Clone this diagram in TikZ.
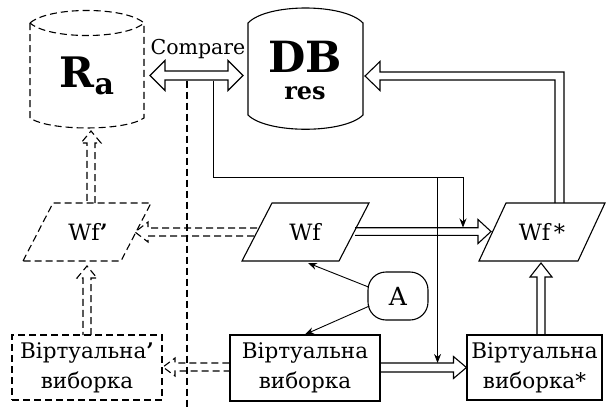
\documentclass[tikz,border=0pt]{standalone}
\usepackage{fontspec}
\setmainfont{DejaVu Serif}
\newfontfamily\tnr{DejaVu Serif}
\usetikzlibrary{calc,arrows.meta}
\tikzset{
  ln/.style={line width=1.1pt},
  dsh/.style={dash pattern=on 7pt off 4pt},
  txt/.style={font=\tnr\fontsize{22.5}{30}\selectfont, align=center, inner sep=0pt},
  box/.style={draw, ln, minimum width=150pt, minimum height=66pt, txt, font=\tnr\fontsize{21.5}{30}\selectfont},
  thinarr/.style={line width=0.9pt, -{Stealth[length=9pt,width=7pt]}},
}
% horizontal hollow arrow: #1 style, #2 start, #3 tip, #4 half shaft, #5 half head, #6 head length
\newcommand\hharrow[6]{%
  \draw[#1] let \p1=(#2), \p2=(#3), \n1={sign(\x2-\x1)} in
    (\x1,\y2+#4) -- ({\x2-\n1*#6},\y2+#4) -- ({\x2-\n1*#6},\y2+#5) -- (\x2,\y2)
    -- ({\x2-\n1*#6},\y2-#5) -- ({\x2-\n1*#6},\y2-#4) -- (\x1,\y2-#4);}
% vertical hollow arrow
\newcommand\vvarrow[6]{%
  \draw[#1] let \p1=(#2), \p2=(#3), \n1={sign(\y2-\y1)} in
    (\x2+#4,\y1) -- (\x2+#4,{\y2-\n1*#6}) -- (\x2+#5,{\y2-\n1*#6}) -- (\x2,\y2)
    -- (\x2-#5,{\y2-\n1*#6}) -- (\x2-#4,{\y2-\n1*#6}) -- (\x2-#4,\y1);}
\newcommand\bprime{{\bfseries\symbol{"2019}}}
\begin{document}
\begin{tikzpicture}[x=1pt,y=-1pt]
\useasboundingbox (0,0) rectangle (608,407);

% R_a cylinder (dashed)
\draw[ln,dsh] (30,23) .. controls (49,6.3) and (125,6.3) .. (144,23)
  .. controls (125,39.7) and (49,39.7) .. (30,23);
\draw[ln,dsh] (30,23) -- (30,118) .. controls (49,131.3) and (125,131.3) .. (144,118) -- (144,23);
\node[inner sep=0pt, font=\tnr] (ra) at (87,76)
  {\fontsize{42}{42}\selectfont\bfseries R\raisebox{-7pt}{\fontsize{30}{30}\selectfont a}};

% DB cylinder
\draw[ln] (248,23) .. controls (267,3) and (344,3) .. (363,23) -- (363,115)
  .. controls (344,134) and (267,134) .. (248,115) -- cycle;
\node[inner sep=0pt, anchor=base, text depth=0pt, font=\tnr\bfseries\fontsize{43}{43}\selectfont] (db) at (305,72) {DB};
\node[inner sep=0pt, anchor=base, text height=15pt, font=\tnr\bfseries\fontsize{24}{24}\selectfont] (res) at (305,99) {res};

% Compare double arrow
\node[inner sep=0pt, font=\tnr\fontsize{20.5}{20.5}\selectfont] (cmp) at (198,49) {Compare};
\coordinate (cmpL) at (150,75.5);
\coordinate (cmpR) at (243,75.5);
\draw[ln] let \p1=(cmpL), \p2=(cmpR) in
  (\x1,\y1) -- (\x1+15pt,\y1+15pt) -- (\x1+15pt,\y1+4.5pt) -- (\x2-15pt,\y1+4.5pt)
  -- (\x2-15pt,\y1+15pt) -- (\x2,\y1) -- (\x2-15pt,\y1-15pt) -- (\x2-15pt,\y1-4.5pt)
  -- (\x1+15pt,\y1-4.5pt) -- (\x1+15pt,\y1-15pt) -- cycle;

% parallelograms
\draw[ln,dsh] (23,261) -- (53,203) -- (151,203) -- (121,261) -- cycle;
\node[txt] (wfp) at (88,232) {Wf\bprime};
\draw[ln] (242,261) -- (272,203) -- (369,203) -- (339,261) -- cycle;
\node[txt] (wf) at (305,232) {Wf};
\draw[ln] (479,261) -- (506,203) -- (605,203) -- (578,261) -- cycle;
\node[txt] (wfs) at (542,232) {Wf\,*};

% boxes
\node[box,dsh,minimum width=150pt,minimum height=65pt] (vp) at (87,367.5) {Віртуальна\bprime\\виборка};
\node[box] (v) at (305,368) {Віртуальна\\виборка};
\node[box,minimum width=135pt,minimum height=65pt] (vs) at (534.5,367.5) {Віртуальна\\виборка*};

% A
\node[draw, ln, rounded corners=18pt, minimum width=60pt, minimum height=48pt,
      inner sep=0pt, font=\tnr\fontsize{25}{25}\selectfont] (A) at (398,296) {A};

% coordinates for connector ends
\coordinate (wfL) at (257,232);
\coordinate (wfpTip) at (135,232);
\coordinate (wfR) at (355,231.5);
\coordinate (wfsTip) at (491,231.5);
\coordinate (vpTip) at (163,367);
\coordinate (vpTop) at (87,335);
\coordinate (wfpBot) at (87,266);
\coordinate (wfpTop) at (91,203);
\coordinate (raBot) at (91,131);
\coordinate (wfsBot) at (541,263);
\coordinate (wfBot) at (308,263);
\coordinate (jrow) at (0,177);
\coordinate (j0) at (213,80.5);
\coordinate (dv0) at (187,80.5);
\coordinate (dv1) at (187,407);

% hollow arrows
\hharrow{ln}{wfR}{wfsTip}{3.8pt}{12pt}{13pt}
\hharrow{ln}{v.east}{vs.west}{4.5pt}{11pt}{13pt}
\vvarrow{ln}{vs.north}{wfsBot}{4pt}{11pt}{14pt}
\hharrow{ln,dsh}{wfL}{wfpTip}{4pt}{10pt}{13pt}
\hharrow{ln,dsh}{v.west}{vpTip}{4pt}{9pt}{12pt}
\vvarrow{ln,dsh}{vpTop}{wfpBot}{4pt}{10pt}{12pt}
\vvarrow{ln,dsh}{wfpTop}{raBot}{4pt}{10pt}{12pt}

% Wf* -> DB bent hollow arrow
\coordinate (dbR) at (365,76);
\coordinate (wfsTop) at (559.5,203);
\draw[ln] let \p1=(wfsTop), \p2=(dbR) in
  (\x1-4.5pt,\y1) -- (\x1-4.5pt,\y2-4pt) -- (\x2+15pt,\y2-4pt) -- (\x2+15pt,\y2-14.5pt)
  -- (\x2,\y2) -- (\x2+15pt,\y2+14.5pt) -- (\x2+15pt,\y2+4pt) -- (\x1+4.5pt,\y2+4pt)
  -- (\x1+4.5pt,\y1);

% thin connectors
\draw[ln,dsh] (dv0) -- (dv1);
\draw[thinarr] (j0) -- (j0 |- jrow) -- ($(wfsTip |- jrow)+(-28,0)$) -- ($(wfsTip)+(-28,-4)$);
\draw[thinarr] ($(v.east |- jrow)+(57,0)$) -- ($(v.east)+(57,-5)$);
\draw[thinarr] ($(A.west)+(1,-9)$) -- (wfBot);
\draw[thinarr] ($(A.west)+(2,10)$) -- (v.north);
\end{tikzpicture}
\end{document}
